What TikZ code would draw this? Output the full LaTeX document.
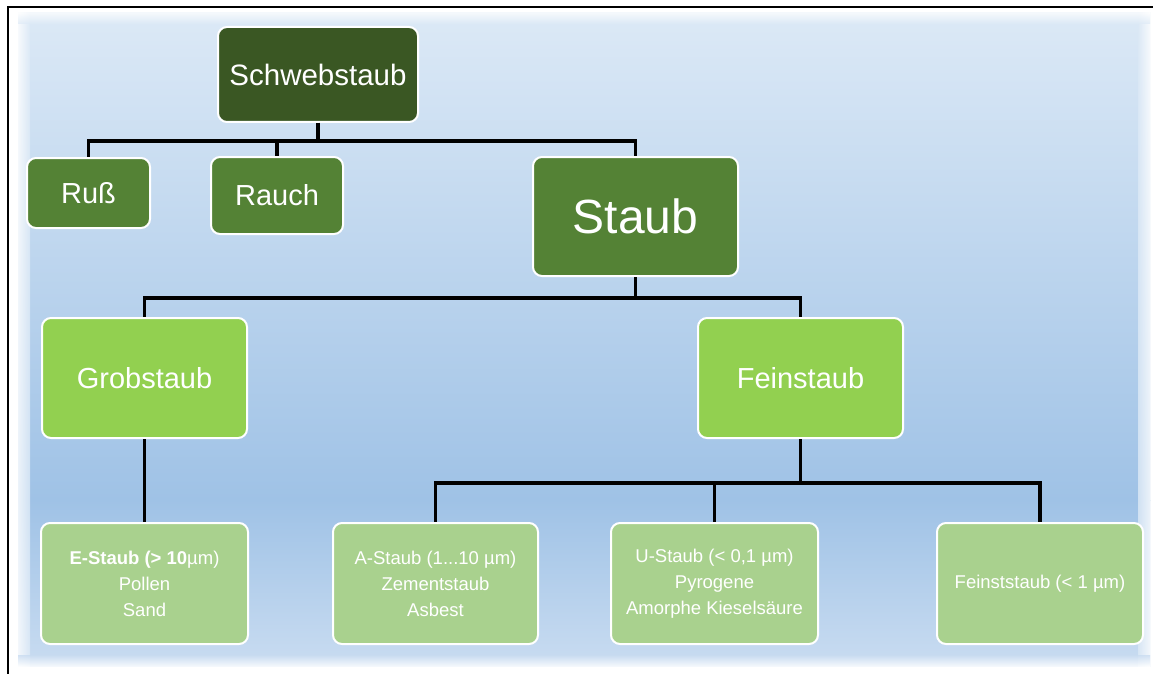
\documentclass[tikz,border=0pt]{standalone}
\usepackage{fontspec}
\setmainfont{Liberation Sans}
\definecolor{bgtop}{HTML}{DCE9F6}
\definecolor{bgmid}{HTML}{9FC2E6}
\definecolor{bgbot}{HTML}{C9DCF1}
\definecolor{dkgreen}{HTML}{3A5723}
\definecolor{mdgreen}{HTML}{548235}
\definecolor{ltgreen}{HTML}{92D050}
\definecolor{pagreen}{HTML}{A9D18E}
\tikzset{
  box/.style={draw=white, line width=2pt, rounded corners=9pt, text=white, align=center, inner sep=0pt},
  lvlA/.style={box, fill=dkgreen, font=\fontsize{29.5}{33}\selectfont},
  lvlB/.style={box, fill=mdgreen, font=\fontsize{29}{33}\selectfont},
  lvlC/.style={box, fill=ltgreen, font=\fontsize{29}{33}\selectfont},
  lvlD/.style={box, fill=pagreen, font=\fontsize{18.5}{26}\selectfont},
  conn/.style={line width=3.5pt, black},
}
\begin{document}
\begin{tikzpicture}[x=1pt,y=-1pt]
\useasboundingbox (0,0) rectangle (1153,674);
\fill[white] (0,0) rectangle (1153,674);
% background
\shade[top color=bgtop, bottom color=bgmid] (18,13) rectangle (1150,500);
\shade[top color=bgmid, bottom color=bgbot] (18,500) rectangle (1150,666);
% soft edges
\shade[left color=white, right color=bgtop, opacity=0.8] (18,13) rectangle (30,666);
\shade[left color=bgtop, right color=white, opacity=0.8] (1138,13) rectangle (1150,666);
\shade[top color=white, bottom color=bgtop, opacity=0.7] (18,13) rectangle (1150,24);
\shade[top color=bgbot, bottom color=white, opacity=0.8] (18,655) rectangle (1150,666);
% frame
\draw[line width=1.5pt] (8,674) -- (8,7) -- (1153,7);
% nodes
\node[lvlA, minimum width=200pt, minimum height=95pt] (schweb) at (318,74.5) {Schwebstaub};
\node[lvlB, minimum width=123pt, minimum height=70pt] (russ) at (88.5,193) {Ruß};
\node[lvlB, minimum width=132pt, minimum height=77pt] (rauch) at (277,195.5) {Rauch};
\node[lvlB, minimum width=205pt, minimum height=119pt, font=\fontsize{48}{52}\selectfont] (staub) at (635.5,216.5) {Staub};
\node[lvlC, minimum width=205pt, minimum height=120pt] (grob) at (144.5,378) {Grobstaub};
\node[lvlC, minimum width=205pt, minimum height=120pt] (fein) at (800.5,378) {Feinstaub};
\node[lvlD, minimum width=207pt, minimum height=121pt] (estaub) at (144.5,583.5) {\textbf{E-Staub (> 10}µm)\\Pollen\\Sand};
\node[lvlD, minimum width=205pt, minimum height=121pt] (astaub) at (435.5,583.5) {A-Staub (1...10 µm)\\Zementstaub\\Asbest};
\node[lvlD, minimum width=207pt, minimum height=121pt] (ustaub) at (714.5,583.5) {U-Staub (< 0,1 µm)\\Pyrogene\\Amorphe Kieselsäure};
\node[lvlD, minimum width=206pt, minimum height=121pt] (feinst) at (1040,583.5) {Feinststaub (< 1 µm)};
% connectors
\draw[conn] (schweb.south) -- ++(0,18) -| (russ.north);
\draw[conn] (schweb.south) -- ++(0,18) -| (rauch.north);
\draw[conn] (schweb.south) -- ++(0,18) -| (staub.north);
\draw[conn] (staub.south) -- ++(0,21) -| (grob.north);
\draw[conn] (staub.south) -- ++(0,21) -| (fein.north);
\draw[conn] (grob.south) -- (estaub.north);
\draw[conn] (fein.south) -- ++(0,44) -| (astaub.north);
\draw[conn] (fein.south) -- ++(0,44) -| (ustaub.north);
\draw[conn] (fein.south) -- ++(0,44) -| (feinst.north);
\end{tikzpicture}
\end{document}
